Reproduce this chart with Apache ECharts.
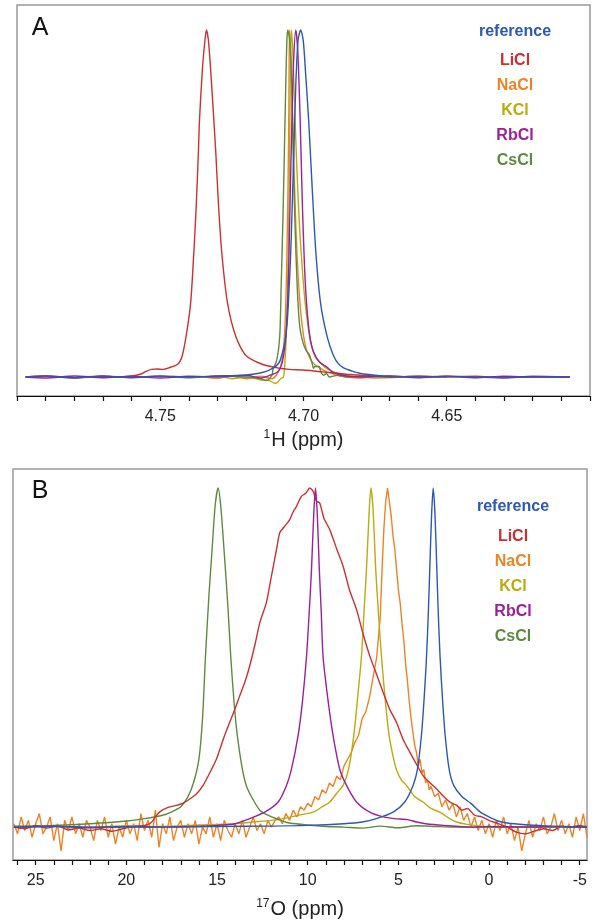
<!DOCTYPE html>
<html>
<head>
<meta charset="utf-8">
<script src="https://cdn.jsdelivr.net/npm/echarts@6/dist/echarts.min.js"></script>
<style>
html,body{margin:0;padding:0;background:#fff;}
#chart{width:596px;height:920px;}
</style>
</head>
<body>
<div id="chart"></div>
<script>
// ---------- names and colours ----------
var seriesNames = ['reference', 'LiCl', 'NaCl', 'KCl', 'RbCl', 'CsCl'];
var seriesColors = ['#2b57b8', '#cc3030', '#ec8426', '#bcaa10', '#9c2098', '#5e8a40'];

// ---------- panel A : 1H spectra  [ppm, normalised intensity] ----------
var H_reference = [[4.797,0],[4.79,0.3],[4.78,-0.2],[4.77,0.2],[4.76,-0.2],[4.75,0.3],[4.74,0],[4.73,0.3],[4.725,0.4],[4.72,0.6],[4.716,1.0],[4.713,1.6],[4.711,2.4],[4.7095,3.2],[4.7083,4.5],[4.7072,7.5],[4.7062,11.6],[4.7055,18],[4.705,26],[4.7045,35],[4.7041,45],[4.7034,64],[4.7027,84],[4.7019,97],[4.701,100],[4.7001,97],[4.6993,88],[4.6982,74],[4.6970,55],[4.6957,36],[4.6940,21],[4.6917,11.5],[4.6897,6.5],[4.688,4],[4.686,2.6],[4.683,1.7],[4.68,1.0],[4.675,0.5],[4.67,0.2],[4.66,0],[4.65,0.2],[4.64,0],[4.63,-0.2],[4.62,0],[4.607,0]];
var H_LiCl = [[4.797,0],[4.79,0.3],[4.78,-0.2],[4.77,0.3],[4.765,0],[4.76,0.3],[4.757,0.8],[4.755,1.6],[4.7531,2.2],[4.751,2.3],[4.749,2.2],[4.7464,2.8],[4.745,3.2],[4.7436,3.9],[4.7424,5.9],[4.741,11.6],[4.7394,21.2],[4.7383,35.6],[4.7374,50],[4.7367,64.5],[4.7363,74.1],[4.7353,88.5],[4.7344,97.1],[4.7339,100],[4.7332,97.1],[4.7324,88.5],[4.7313,74.1],[4.7306,64.5],[4.7297,50],[4.7285,35.6],[4.7265,21.2],[4.7236,11.6],[4.7201,6.2],[4.7142,3.6],[4.7083,2.5],[4.705,2.2],[4.70,2],[4.695,1.6],[4.69,1.2],[4.685,0.8],[4.68,0.5],[4.675,0.3],[4.67,0],[4.66,0.2],[4.65,0],[4.64,0.2],[4.63,-0.2],[4.62,0.2],[4.607,0]];
var H_NaCl = [[4.735,0],[4.73,-0.4],[4.725,0.3],[4.72,-0.5],[4.715,0.2],[4.711,-0.5],[4.7095,0.5],[4.708,3],[4.707,8],[4.7063,18],[4.7058,35],[4.7054,55],[4.7051,78],[4.7049,100],[4.7045,95],[4.704,82],[4.7033,60],[4.7026,42],[4.7018,28],[4.701,19],[4.700,12],[4.699,8],[4.6975,5],[4.696,3.5],[4.694,2.5],[4.692,1.5],[4.690,1],[4.688,0.4],[4.685,0],[4.68,-0.3],[4.675,0.2],[4.665,0]];
var H_KCl = [[4.735,0],[4.73,0.4],[4.725,-0.5],[4.72,0],[4.715,-0.8],[4.712,-1],[4.710,-1.8],[4.709,-1.5],[4.708,-0.5],[4.707,0],[4.7065,4],[4.706,12],[4.7055,28],[4.705,55],[4.7047,80],[4.7043,100],[4.7038,95],[4.7032,80],[4.7024,62],[4.7015,45],[4.7005,32],[4.6995,22],[4.6985,15],[4.6975,10],[4.696,6],[4.694,4],[4.692,2.5],[4.6895,1.5],[4.687,0.8],[4.684,0.3],[4.68,0],[4.675,-0.3],[4.665,0]];
var H_RbCl = [[4.797,0],[4.79,-0.3],[4.78,0.3],[4.77,-0.2],[4.76,0.2],[4.75,-0.3],[4.74,0.2],[4.73,0],[4.72,0.5],[4.715,-0.3],[4.712,0.4],[4.709,1.5],[4.7075,4],[4.7065,9],[4.7058,17],[4.7052,30],[4.7047,50],[4.7041,72],[4.7035,90],[4.7027,100],[4.702,94],[4.7012,75],[4.7004,50],[4.6997,33],[4.699,22],[4.698,13],[4.697,8.5],[4.6955,5.5],[4.694,4],[4.692,3],[4.690,1.5],[4.688,0.8],[4.685,0.3],[4.68,0],[4.67,0.3],[4.66,-0.2],[4.65,0.2],[4.64,-0.2],[4.63,0.2],[4.62,0],[4.607,0]];
var H_CsCl = [[4.797,0],[4.79,0.2],[4.78,-0.3],[4.77,0.2],[4.76,0],[4.75,0.2],[4.74,-0.2],[4.73,0.2],[4.72,0],[4.715,-0.5],[4.713,-1],[4.711,0.5],[4.7107,2],[4.7093,5],[4.7083,11.6],[4.7078,26],[4.7072,45],[4.7067,64],[4.7062,84],[4.7058,97],[4.7055,100],[4.7052,99],[4.7048,97],[4.7041,84],[4.7036,64],[4.703,45],[4.7022,26],[4.7013,14.5],[4.7001,9.7],[4.699,7.5],[4.698,6.5],[4.697,4],[4.6965,2.5],[4.696,3],[4.6945,3],[4.694,1.5],[4.693,0.5],[4.692,1],[4.691,0],[4.688,0.5],[4.685,0],[4.68,0.2],[4.67,0],[4.66,0.2],[4.65,0]];

// ---------- panel B : 17O spectra [ppm, normalised intensity] ----------
var O_reference = [[26.2,0],[24,0.2],[22,0],[20,0.1],[18,0],[16,0.1],[15,0.2],[12,0.3],[10,0.5],[8,1],[7,1.5],[6.21,2.5],[5.29,4.4],[4.65,7.4],[4.19,12.3],[3.95,17],[3.73,27],[3.58,38],[3.45,50],[3.35,63],[3.27,76],[3.17,92],[3.08,100],[2.98,92],[2.88,76],[2.8,63],[2.7,50],[2.57,38],[2.42,27],[2.2,17],[1.95,12.3],[1.5,9],[1.0,7],[0.5,4.5],[0,3],[-0.5,1.8],[-1,1.2],[-2,0.7],[-3,0.4],[-4,0.2],[-5.4,0]];
var O_LiCl = [[26.2,0],[25.6,-0.5],[25,0.5],[24.4,-0.3],[23.8,0.3],[23.2,-0.8],[22.6,-0.3],[22,-1],[21.4,-0.5],[20.8,-1.2],[20.2,-0.5],[19.6,0.2],[19,0.5],[18.8,0.8],[18.6,1.5],[18.4,3],[18.16,4.5],[17.7,5.8],[17.24,6.4],[16.9,7],[16.5,8.3],[16.1,10],[15.77,12.3],[15.4,16],[15.03,20.1],[14.65,26],[14.3,30.9],[14,35],[13.75,38.7],[13.45,43],[13.2,47.5],[12.9,54],[12.64,60.3],[12.28,66.2],[12.0,74],[11.72,81.9],[11.54,86.8],[11.3,88.5],[10.99,90.7],[10.8,93],[10.62,94.6],[10.35,97.5],[10.1,98.5],[9.89,100],[9.7,99],[9.52,96.1],[9.34,95.6],[9.1,91],[8.78,87.7],[8.4,82],[8.05,76.9],[7.7,70],[7.31,64.2],[6.95,57],[6.58,50.5],[6.2,45],[5.84,39.7],[5.5,35],[5.11,30.9],[4.75,26],[4.37,22.1],[4.0,18.5],[3.64,15.2],[3.25,13],[2.9,11.3],[2.5,9],[2.17,7.4],[1.8,6.5],[1.5,5],[1.2,5.5],[0.8,3.5],[0.4,3],[0,2],[-0.5,1],[-1,0],[-1.5,-1.5],[-2,-2],[-2.5,-1.2],[-3,-0.5],[-3.5,-1],[-4,0.3],[-4.5,0],[-5,0.5],[-5.4,0]];
var O_NaCl = [[26.2,1],[26.0,-2],[25.8,3],[25.6,-1],[25.4,2],[25.2,-3],[25.0,1],[24.8,4],[24.6,-2],[24.4,0],[24.2,3],[24.0,-4],[23.8,1],[23.6,-7],[23.4,2],[23.2,-1],[23.0,3],[22.8,-2],[22.6,1],[22.4,-3],[22.2,2],[22.0,0],[21.8,-4],[21.6,2],[21.4,-1],[21.2,3],[21.0,-3],[20.8,1],[20.6,-5],[20.4,0],[20.2,-3],[20.0,2],[19.8,-2],[19.6,1],[19.4,-4],[19.2,4],[19.0,-1],[18.8,2],[18.6,-3],[18.4,5],[18.2,-6],[18.0,1],[17.8,-2],[17.6,3],[17.4,-4],[17.2,0],[17.0,2],[16.8,-3],[16.6,1],[16.4,-2],[16.2,2],[16.0,-5],[15.8,0],[15.6,-2],[15.4,3],[15.2,-3],[15.0,1],[14.8,-4],[14.6,2],[14.4,-1],[14.2,-3],[14.0,1],[13.8,-2],[13.6,2],[13.4,-3],[13.2,0],[13.0,3],[12.8,-1],[12.6,1],[12.4,-2],[12.2,2],[12.0,0],[11.8,2],[11.6,3],[11.4,1],[11.2,4],[11.0,2],[10.8,5],[10.6,3],[10.4,6],[10.2,5],[10.0,7],[9.8,6],[9.6,9],[9.4,8],[9.2,11],[9.0,10],[8.8,13],[8.6,12],[8.4,15],[8.2,14],[8.0,18],[7.8,20],[7.6,22],[7.4,25],[7.2,27],[7.0,32],[6.8,34],[6.6,38],[6.4,44],[6.2,50],[6.0,62],[5.9,76],[5.8,88],[5.7,96],[5.6,100],[5.5,96],[5.4,92],[5.3,86],[5.2,82],[5.1,76],[5.0,70],[4.9,66],[4.8,60],[4.7,55],[4.6,48],[4.5,43],[4.4,37],[4.3,32],[4.2,28],[4.1,24],[4.0,22],[3.9,18],[3.8,20],[3.7,16],[3.6,17],[3.5,13],[3.4,14],[3.3,11],[3.2,12],[3.0,9],[2.8,10],[2.6,6],[2.4,8],[2.2,5],[2.0,7],[1.8,3],[1.6,6],[1.4,2],[1.2,4],[1.0,0],[0.8,3],[0.6,-1],[0.4,2],[0.2,-2],[0.0,1],[-0.2,-3],[-0.4,2],[-0.6,-1],[-0.8,3],[-1.0,-2],[-1.2,1],[-1.4,-4],[-1.6,0],[-1.8,-7],[-2.0,-2],[-2.2,2],[-2.4,-3],[-2.6,1],[-2.8,-1],[-3.0,3],[-3.2,-2],[-3.4,0],[-3.6,4],[-3.8,-1],[-4.0,2],[-4.2,-2],[-4.4,1],[-4.6,-3],[-4.8,3],[-5.0,-1],[-5.2,4],[-5.4,-3]];
var O_KCl = [[26.2,0],[24,0.3],[22,0],[20,0.4],[18,0.2],[16,0.6],[14,1],[13,1.5],[12,2],[11.36,2.5],[10.5,3.5],[9.7,4.4],[9.2,6],[8.78,7.4],[8.4,10],[8.05,12.3],[7.75,17],[7.46,27],[7.25,38],[7.04,50],[6.9,63],[6.76,76],[6.62,92],[6.52,100],[6.4,94],[6.25,76],[6.1,63],[5.93,50],[5.7,36],[5.51,27],[5.3,21],[5.11,17],[4.85,14],[4.56,12.3],[4.1,9],[3.64,7.4],[3.2,5.5],[2.72,4.4],[2.17,2.5],[1.8,1.5],[1.2,0.8],[0.5,0.3],[0,0],[-2,0],[-5.4,0]];
var O_RbCl = [[26.2,0],[24,0.3],[22,-0.2],[20,0.2],[18,0],[16,0.3],[15,0.5],[14,1],[13.2,2.5],[12.37,4.4],[11.63,7.4],[11.17,12.3],[10.9,17],[10.53,27],[10.29,37],[10.07,50],[9.92,63],[9.79,76],[9.67,92],[9.57,100],[9.47,92],[9.36,76],[9.25,63],[9.15,50],[8.87,37],[8.6,27],[8.23,17],[7.86,12.3],[7.31,7.4],[6.58,4.4],[5.84,3],[5.2,2.5],[4.5,2.2],[4,1.5],[3.5,1],[2.5,0.5],[1,0],[0,0.2],[-2,0],[-4,0.2],[-5.4,0]];
var O_CsCl = [[26.2,0.3],[24,0.5],[22,1.0],[20,1.8],[19,2.5],[18,3.5],[17.5,4.5],[17,6],[16.6,9],[16.3,13],[16.0,20],[15.8,32],[15.64,50],[15.45,68],[15.27,82],[15.1,95],[14.94,100],[14.8,95],[14.59,80],[14.4,65],[14.24,50],[14.05,36],[13.88,27],[13.6,17],[13.37,12],[13.0,8],[12.64,5],[12.2,3.5],[11.5,2],[11,1.2],[10,0.6],[9,0.2],[8,0],[7,-0.3],[6,0.3],[5,-0.2],[4,0.4],[3,0.2],[2,0],[0,0],[-2,0.1],[-5.4,0]];

// ---------- axis ticks ----------
var H_ticks = [4.60,4.61,4.62,4.63,4.64,4.65,4.66,4.67,4.68,4.69,4.70,4.71,4.72,4.73,4.74,4.75,4.76,4.77,4.78,4.79,4.80];
var H_labels = [4.65, 4.70, 4.75];
var O_ticks = [-5,-4,-3,-2,-1,0,1,2,3,4,5,6,7,8,9,10,11,12,13,14,15,16,17,18,19,20,21,22,23,24,25,26];
var O_labels = [-5, 0, 5, 10, 15, 20, 25];

var H_data = [H_reference, H_LiCl, H_NaCl, H_KCl, H_RbCl, H_CsCl];
var O_data = [O_reference, O_LiCl, O_NaCl, O_KCl, O_RbCl, O_CsCl];
var drawOrder = [2, 3, 5, 1, 4, 0]; // NaCl, KCl, CsCl, LiCl, RbCl, reference

var FONT = '"Liberation Sans", Arial, Helvetica, sans-serif';

function xAxisCfg(gridIndex, min, max, ticks, labels, nameRich, gap, fmt) {
  return {
    type: 'value', gridIndex: gridIndex, min: min, max: max, inverse: true,
    axisLine: {show: true, onZero: false, lineStyle: {color: '#111', width: 1.2}},
    axisTick: {show: true, inside: false, length: 5, lineStyle: {color: '#111', width: 1.2}, customValues: ticks},
    axisLabel: {show: true, customValues: labels, color: '#222', fontSize: 16, fontFamily: FONT, margin: 13, formatter: fmt},
    splitLine: {show: false},
    name: nameRich, nameLocation: 'middle', nameGap: gap,
    nameTextStyle: {color: '#222', fontFamily: FONT,
      rich: {
        sup: {fontSize: 12, fontFamily: FONT, color: '#222', verticalAlign: 'top', lineHeight: 14, padding: [0, 1, 0, 0]},
        main: {fontSize: 20, fontFamily: FONT, color: '#222', lineHeight: 22}
      }}
  };
}

var series = [];
drawOrder.forEach(function (i) {
  series.push({
    name: 'A-' + seriesNames[i], type: 'line', xAxisIndex: 0, yAxisIndex: 0,
    data: H_data[i], showSymbol: false, smooth: 0.25, animation: false,
    lineStyle: {color: seriesColors[i], width: 1.4}, itemStyle: {color: seriesColors[i]}
  });
});
drawOrder.forEach(function (i) {
  series.push({
    name: 'B-' + seriesNames[i], type: 'line', xAxisIndex: 1, yAxisIndex: 1,
    data: O_data[i], showSymbol: false, smooth: (i === 2 ? false : 0.25), animation: false,
    lineStyle: {color: seriesColors[i], width: 1.4}, itemStyle: {color: seriesColors[i]}
  });
});

var legendYA = [31.5, 61, 86, 111, 136, 161];
var legendYB = [507, 536.7, 561.5, 587, 612, 637];
var graphics = [];
seriesNames.forEach(function (n, i) {
  graphics.push({type: 'text', x: 515, y: legendYA[i], style: {text: n, fill: seriesColors[i], font: 'bold 16px ' + FONT, align: 'center', verticalAlign: 'middle'}});
  graphics.push({type: 'text', x: 513, y: legendYB[i], style: {text: n, fill: seriesColors[i], font: 'bold 16px ' + FONT, align: 'center', verticalAlign: 'middle'}});
});
graphics.push({type: 'text', x: 40, y: 28, style: {text: 'A', fill: '#111', font: '25px ' + FONT, align: 'center', verticalAlign: 'middle'}});
graphics.push({type: 'text', x: 40, y: 491, style: {text: 'B', fill: '#111', font: '25px ' + FONT, align: 'center', verticalAlign: 'middle'}});

var option = {
  animation: false,
  backgroundColor: '#fff',
  grid: [
    {left: 17, top: 5, right: 6, bottom: 524, show: true, borderColor: '#999', borderWidth: 1.5, backgroundColor: 'transparent'},
    {left: 13, top: 469, right: 9, bottom: 59, show: true, borderColor: '#999', borderWidth: 1.5, backgroundColor: 'transparent'}
  ],
  xAxis: [
    xAxisCfg(0, 4.60, 4.80, H_ticks, H_labels, '{sup|1}{main|H (ppm)}', 33, function (v) { return v.toFixed(2); }),
    xAxisCfg(1, -5.4, 26.25, O_ticks, O_labels, '{sup|17}{main|O (ppm)}', 38, function (v) { return String(Math.round(v)); })
  ],
  yAxis: [
    {type: 'value', gridIndex: 0, min: -5.48, max: 107.2, show: false, splitLine: {show: false}},
    {type: 'value', gridIndex: 1, min: -9.7, max: 105.6, show: false, splitLine: {show: false}}
  ],
  series: series,
  graphic: graphics
};

var chart = echarts.init(document.getElementById('chart'), null, {renderer: 'canvas'});
chart.setOption(option);
</script>
</body>
</html>
